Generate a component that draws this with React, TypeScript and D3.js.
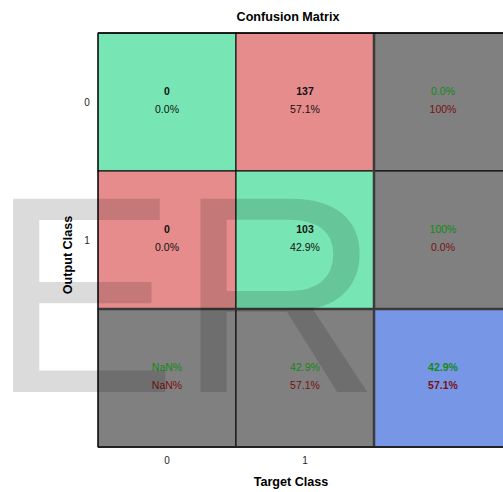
import * as React from 'react';
import * as d3 from 'd3';

// Data
const classes = ['0', '1'];
// counts[output][target]
const counts: number[][] = [
  [0, 137],
  [0, 103],
];
const title = 'Confusion Matrix';
const xLabel = 'Target Class';
const yLabel = 'Output Class';
const watermark = 'ER';

const width = 503;
const height = 492;

const GREEN = '#78e6b4';
const RED = '#e68c8c';
const GRAY = '#808080';
const BLUE = '#7896e6';
const TXT_GREEN = '#138a13';
const TXT_RED = '#7a1010';
const FONT = '"Liberation Sans", Arial, sans-serif';

const pct = (a: number, b: number) => {
  if (b === 0) return 'NaN%';
  const v = (100 * a) / b;
  return v === 100 ? '100%' : `${v.toFixed(1)}%`;
};

const App: React.FC = () => {
  const keys = [...classes, 'all'];
  const x = d3.scaleBand<string>().domain(keys).range([98, 512]);
  const y = d3.scaleBand<string>().domain(keys).range([33, 447]);
  const bw = x.bandwidth();
  const bh = y.bandwidth();

  const total = d3.sum(counts.flat());
  const rowSums = counts.map(r => d3.sum(r));
  const colSums = classes.map((_, j) => d3.sum(counts, r => r[j]));
  const correct = d3.sum(classes, (_, i) => counts[i][i]);

  const cells: React.ReactNode[] = [];
  classes.forEach((rk, i) => {
    classes.forEach((ck, j) => {
      const cx = x(ck)! + bw / 2;
      const cy = y(rk)! + bh / 2;
      cells.push(
        <g key={`c${i}${j}`}>
          <rect x={x(ck)} y={y(rk)} width={bw} height={bh} fill={i === j ? GREEN : RED} stroke="#000" strokeWidth={1} />
          <text x={cx} y={cy - 11} textAnchor="middle" dominantBaseline="central" fontWeight="bold" fontSize={10.5} fill="#111">{counts[i][j]}</text>
          <text x={cx} y={cy + 7} textAnchor="middle" dominantBaseline="central" fontSize={10.5} fill="#111">{pct(counts[i][j], total)}</text>
        </g>
      );
    });
  });

  const summary = (key: string, xk: string, yk: string, good: string, bad: string, fill: string, bold = false) => {
    const cx = x(xk)! + bw / 2;
    const cy = y(yk)! + bh / 2;
    return (
      <g key={key}>
        <rect x={x(xk)} y={y(yk)} width={bw} height={bh} fill={fill} stroke="#000" strokeWidth={1} />
        <text x={cx} y={cy - 11} textAnchor="middle" dominantBaseline="central" fontSize={10.5} fontWeight={bold ? 'bold' : 'normal'} fill={TXT_GREEN}>{good}</text>
        <text x={cx} y={cy + 7} textAnchor="middle" dominantBaseline="central" fontSize={10.5} fontWeight={bold ? 'bold' : 'normal'} fill={TXT_RED}>{bad}</text>
      </g>
    );
  };

  classes.forEach((rk, i) => {
    cells.push(summary(`r${i}`, 'all', rk, pct(counts[i][i], rowSums[i]), pct(rowSums[i] - counts[i][i], rowSums[i]), GRAY));
  });
  classes.forEach((ck, j) => {
    cells.push(summary(`k${j}`, ck, 'all', pct(counts[j][j], colSums[j]), pct(colSums[j] - counts[j][j], colSums[j]), GRAY));
  });
  cells.push(summary('tot', 'all', 'all', pct(correct, total), pct(total - correct, total), BLUE, true));

  return (
    <svg width={width} height={height} style={{ position: 'absolute', left: 0, top: 0 }} fontFamily={FONT}>
      <rect width={width} height={height} fill="#fff" />
      {cells}
      {/* darker separators around the summary row/column */}
      <line x1={98} x2={512} y1={y('all')!} y2={y('all')!} stroke="#3a3a3a" strokeWidth={2.5} />
      <line x1={x('all')!} x2={x('all')!} y1={33} y2={447} stroke="#3a3a3a" strokeWidth={2.5} />
      <line x1={98} x2={512} y1={447} y2={447} stroke="#222" strokeWidth={2} />
      <line x1={98} x2={512} y1={33} y2={33} stroke="#000" strokeWidth={1.5} />
      <line x1={98} x2={98} y1={33} y2={447} stroke="#000" strokeWidth={1} />

      <text x={288} y={17} textAnchor="middle" dominantBaseline="central" fontWeight="bold" fontSize={12.6} fill="#000">{title}</text>

      {classes.map(c => (
        <text key={`yt${c}`} x={87} y={y(c)! + bh / 2} textAnchor="middle" dominantBaseline="central" fontSize={10} fill="#262626">{c}</text>
      ))}
      {classes.map(c => (
        <text key={`xt${c}`} x={x(c)! + bw / 2} y={460} textAnchor="middle" dominantBaseline="central" fontSize={10} fill="#262626">{c}</text>
      ))}
      <text x={291} y={482} textAnchor="middle" dominantBaseline="central" fontWeight="bold" fontSize={12.6} fill="#000">{xLabel}</text>
      <text transform="translate(68,255) rotate(-90)" textAnchor="middle" dominantBaseline="central" fontWeight="bold" fontSize={12.6} fill="#000">{yLabel}</text>

      <text x={-10} y={392} fontSize={281} fill="#000" fillOpacity={0.14} fontFamily={FONT}>{watermark}</text>
    </svg>
  );
};

export default App;
